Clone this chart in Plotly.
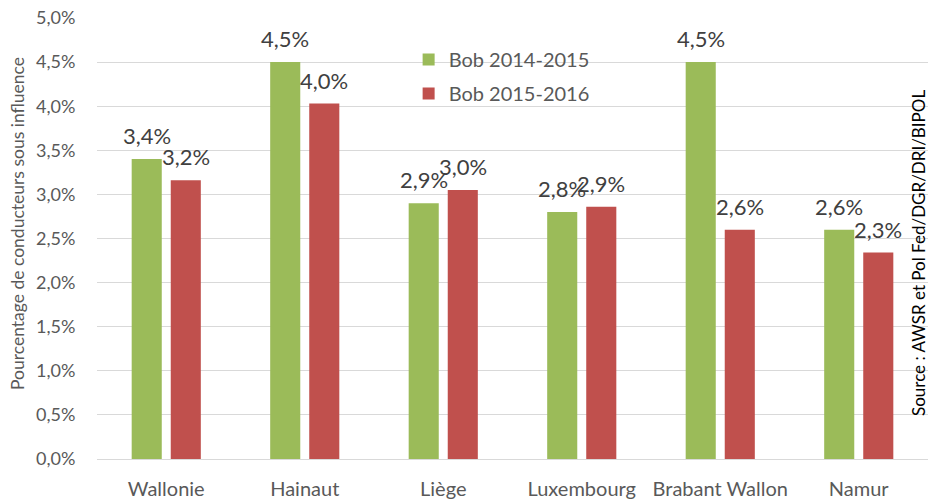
import plotly.graph_objects as go

categories = ["Wallonie", "Hainaut", "Liège", "Luxembourg", "Brabant Wallon", "Namur"]
bob_2014_2015 = [0.034, 0.045, 0.029, 0.028, 0.045, 0.026]
bob_2015_2016 = [0.0316, 0.0403, 0.0305, 0.0286, 0.026, 0.0234]
series_names = ["Bob 2014-2015", "Bob 2015-2016"]
y_ticks = [0, 0.005, 0.01, 0.015, 0.02, 0.025, 0.03, 0.035, 0.04, 0.045, 0.05]

FONT = "Lato"
GREEN = "#9BBB59"
RED = "#C0504D"
BAR_SHIFT = 19.5  # px offset of each bar centre from its category centre

fig = go.Figure()
annotations = []
for i, (name, vals, col) in enumerate([(series_names[0], bob_2014_2015, GREEN),
                                        (series_names[1], bob_2015_2016, RED)]):
    fig.add_trace(go.Bar(
        x=categories, y=vals, name=name, legendgroup=name,
        marker=dict(color=col, line=dict(width=0)),
        hoverinfo="skip",
    ))
    shift = -BAR_SHIFT if i == 0 else BAR_SHIFT
    for c, v in zip(categories, vals):
        annotations.append(dict(
            x=c, y=v, xref="x", yref="y", text=f"{v*100:.1f}%".replace(".", ","),
            showarrow=False, xanchor="center", yanchor="bottom",
            xshift=shift, yshift=8,
            font=dict(family=FONT, size=22, color="#404040"),
        ))

annotations += [
    dict(text="Pourcentage de conducteurs sous influence", textangle=-90,
         xref="paper", yref="paper", x=-0.095, y=0.533, xanchor="center", yanchor="middle",
         showarrow=False, font=dict(family=FONT, size=17.5, color="#595959")),
    dict(text="Source : AWSR et Pol Fed/DGR/DRI/BIPOL", textangle=-90,
         xref="paper", yref="paper", x=(918 - 97) / 831, y=(459 - 253) / 441,
         xanchor="center", yanchor="middle",
         showarrow=False, font=dict(family=FONT, size=17, color="#000000")),
]

fig.update_layout(
    width=928, height=502,
    margin=dict(l=97, r=0, t=18, b=43),
    paper_bgcolor="white", plot_bgcolor="white",
    separators=", ",
    barmode="group", bargap=0.436, bargroupgap=0.23,
    font=dict(family=FONT, color="#595959"),
    showlegend=True,
    legend=dict(x=0.375, y=0.95, xanchor="left", yanchor="top",
                font=dict(family=FONT, size=20, color="#595959"),
                bgcolor="rgba(0,0,0,0)", tracegroupgap=5),
    xaxis=dict(showgrid=False, showline=False, ticks="outside", ticklen=12,
               tickcolor="rgba(0,0,0,0)", tickfont=dict(family=FONT, size=20, color="#595959"),
               automargin=False),
    yaxis=dict(range=[0, 0.05], tickvals=y_ticks, tickformat=".1%",
               showgrid=True, gridcolor="#D9D9D9", gridwidth=1,
               zeroline=True, zerolinecolor="#D9D9D9", zerolinewidth=1,
               showline=False, ticks="outside", ticklen=17, tickcolor="rgba(0,0,0,0)",
               tickfont=dict(family=FONT, size=18, color="#595959"),
               automargin=False),
    annotations=annotations,
)

fig.write_html("out.html", config={"displayModeBar": False},
               post_script="document.body.style.margin='0px';")
